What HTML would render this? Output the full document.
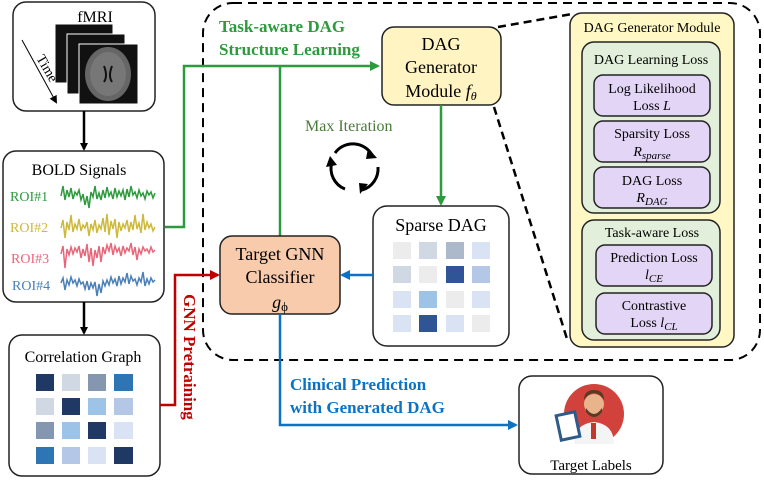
<!DOCTYPE html>
<html><head><meta charset="utf-8"><style>html,body{margin:0;padding:0;background:#fff}svg{display:block}svg text{font-family:"Liberation Serif","Times New Roman",serif}</style></head><body>
<svg width="764" height="484" viewBox="0 0 764 484" xmlns="http://www.w3.org/2000/svg" font-family="Liberation Serif, serif">
<defs>
<marker id="ak" markerWidth="8" markerHeight="8" refX="6" refY="4" orient="auto" markerUnits="userSpaceOnUse"><path d="M0,0 L8,4 L0,8 z" fill="#000"/></marker>
<marker id="ag" markerWidth="10" markerHeight="10" refX="8" refY="5" orient="auto" markerUnits="userSpaceOnUse"><path d="M0,0 L10,5 L0,10 z" fill="#2e9a3e"/></marker>
<marker id="ar" markerWidth="10" markerHeight="10" refX="8" refY="5" orient="auto" markerUnits="userSpaceOnUse"><path d="M0,0 L10,5 L0,10 z" fill="#c00000"/></marker>
<marker id="ab" markerWidth="10" markerHeight="10" refX="8" refY="5" orient="auto" markerUnits="userSpaceOnUse"><path d="M0,0 L10,5 L0,10 z" fill="#0b72c4"/></marker>
</defs>

<rect x="203" y="3" width="557" height="357" rx="30" fill="none" stroke="#000" stroke-width="2" stroke-dasharray="9,6"/>

<!-- fMRI -->
<rect x="13" y="2" width="142" height="109" rx="13" fill="#fff" stroke="#222" stroke-width="1.5"/>
<text x="95" y="22" font-size="16" text-anchor="middle">fMRI</text>
<rect x="55" y="24" width="58" height="59" fill="#111" stroke="#fff" stroke-width="1"/>
<rect x="67" y="34" width="58" height="60" fill="#111" stroke="#fff" stroke-width="1"/>
<rect x="79" y="44" width="59" height="60" fill="#111" stroke="#fff" stroke-width="1"/>
<ellipse cx="108" cy="74" rx="23" ry="27" fill="#666"/>
<ellipse cx="108" cy="74" rx="18" ry="22" fill="#777"/>
<path d="M104,66 q4,10 0,16 M112,66 q-4,10 0,16" stroke="#111" stroke-width="2" fill="none"/>
<line x1="22" y1="40" x2="56" y2="102" stroke="#000" stroke-width="1" marker-end="url(#ak)"/>
<text x="36" y="58" font-size="14" transform="rotate(60 36 58)">Time</text>

<line x1="84" y1="111" x2="84" y2="149" stroke="#000" stroke-width="2.5" marker-end="url(#ak)"/>

<!-- BOLD -->
<rect x="3" y="151" width="161" height="151" rx="13" fill="#fff" stroke="#222" stroke-width="1.5"/>
<text x="79" y="175" font-size="16" text-anchor="middle">BOLD Signals</text>
<text x="10" y="201" font-size="14" fill="#2e9a3e">ROI#1</text>
<text x="10" y="232" font-size="14" fill="#cdb93a">ROI#2</text>
<text x="11" y="263" font-size="14" fill="#e8667a">ROI#3</text>
<text x="12" y="290" font-size="14" fill="#4a7fb8">ROI#4</text>
<polyline fill="none" stroke="#2e9a3e" stroke-width="1.5" points="61,196 63,186 65,200 67,190 69,197 71,188 73,199 75,192 77,195 79,190 81,200 83,194 85,205 87,196 89,208 91,192 93,197 95,186 97,199 99,193 101,200 103,190 105,198 107,187 109,196 111,192 113,199 115,188 117,197 119,191 121,196 123,190 125,200 127,189 129,197 131,186 133,195 135,192 137,198 139,190 141,196 143,193 145,199 147,191 149,195 151,192 153,198 155,193"/>
<polyline fill="none" stroke="#cdb93a" stroke-width="1.5" points="61,228 63,220 65,238 67,222 69,230 71,215 73,232 75,224 77,229 79,219 81,231 83,225 85,228 87,222 89,236 91,224 93,230 95,220 97,233 99,225 101,229 103,218 105,232 107,214 109,235 111,221 113,229 115,219 117,238 119,222 121,231 123,224 125,228 127,220 129,232 131,222 133,230 135,215 137,229 139,223 141,233 143,214 145,230 147,222 149,228 151,224 153,231 155,227"/>
<polyline fill="none" stroke="#e8667a" stroke-width="1.5" points="61,254 63,246 65,268 67,249 69,255 71,247 73,254 75,248 77,252 79,246 81,258 83,249 85,256 87,244 89,262 91,248 93,266 95,250 97,258 99,246 101,262 103,247 105,254 107,245 109,251 111,243 113,255 115,246 117,252 119,248 121,256 123,246 125,253 127,248 129,251 131,243 133,255 135,247 137,260 139,249 141,254 143,247 145,251 147,249 149,253 151,247 153,252 155,250"/>
<polyline fill="none" stroke="#4a7fb8" stroke-width="1.5" points="61,283 63,278 65,290 67,280 69,285 71,277 73,283 75,280 77,286 79,279 81,284 83,282 85,289 87,281 89,290 91,283 93,288 95,282 97,296 99,284 101,293 103,281 105,286 107,280 109,285 111,277 113,283 115,279 117,286 119,276 121,284 123,278 125,282 127,273 129,284 131,276 133,281 135,279 137,285 139,278 141,282 143,272 145,286 147,279 149,284 151,278 153,282 155,280"/>

<line x1="84" y1="302" x2="84" y2="333" stroke="#000" stroke-width="2.5" marker-end="url(#ak)"/>

<!-- Correlation -->
<rect x="9" y="335" width="151" height="141" rx="13" fill="#fff" stroke="#222" stroke-width="1.5"/>
<text x="83" y="362" font-size="16" text-anchor="middle">Correlation Graph</text>
<g>
<rect x="36" y="374" width="18" height="17" fill="#1f3864"/><rect x="62" y="374" width="18" height="17" fill="#d0d8e4"/><rect x="88" y="374" width="18" height="17" fill="#8496b0"/><rect x="114" y="374" width="19" height="17" fill="#2e75b6"/>
<rect x="36" y="398" width="18" height="17" fill="#d0d8e4"/><rect x="62" y="398" width="18" height="17" fill="#1f3864"/><rect x="88" y="398" width="18" height="17" fill="#9dc3e6"/><rect x="114" y="398" width="19" height="17" fill="#b4c7e7"/>
<rect x="36" y="422" width="18" height="17" fill="#8496b0"/><rect x="62" y="422" width="18" height="17" fill="#9dc3e6"/><rect x="88" y="422" width="18" height="17" fill="#1f3864"/><rect x="114" y="422" width="19" height="17" fill="#dae3f3"/>
<rect x="36" y="447" width="18" height="17" fill="#2e75b6"/><rect x="62" y="447" width="18" height="17" fill="#b4c7e7"/><rect x="88" y="447" width="18" height="17" fill="#dae3f3"/><rect x="114" y="447" width="19" height="17" fill="#1f3864"/>
</g>

<polyline points="165,227 184,227 184,66 378,66" fill="none" stroke="#2e9a3e" stroke-width="2.5" marker-end="url(#ag)"/>
<line x1="280" y1="66" x2="280" y2="236" stroke="#2e9a3e" stroke-width="2.5"/>
<text x="219" y="32" font-size="17" font-weight="bold" fill="#2e9a3e">Task-aware DAG</text>
<text x="219" y="55" font-size="17" font-weight="bold" fill="#2e9a3e">Structure Learning</text>

<polyline points="160,405 175,405 175,275 218,275" fill="none" stroke="#c00000" stroke-width="2.5" marker-end="url(#ar)"/>
<text x="0" y="0" font-size="17" font-weight="bold" fill="#c00000" transform="translate(184,294) rotate(90)">GNN Pretraining</text>

<rect x="220" y="236" width="120" height="78" rx="12" fill="#f8cbad" stroke="#222" stroke-width="1.5"/>
<text x="280" y="260" font-size="18" text-anchor="middle">Target GNN</text>
<text x="280" y="283" font-size="18" text-anchor="middle">Classifier</text>
<text x="280" y="308" font-size="18" text-anchor="middle" font-style="italic">g<tspan font-size="13" font-style="normal" dy="3">ϕ</tspan></text>

<rect x="382" y="27" width="119" height="78" rx="12" fill="#fff4c2" stroke="#222" stroke-width="1.5"/>
<text x="441" y="50" font-size="18" text-anchor="middle">DAG</text>
<text x="441" y="73" font-size="18" text-anchor="middle">Generator</text>
<text x="441" y="97" font-size="18" text-anchor="middle">Module <tspan font-style="italic">f</tspan><tspan font-style="italic" font-size="12" dy="3">θ</tspan></text>
<line x1="441" y1="105" x2="441" y2="204" stroke="#2e9a3e" stroke-width="2.5" marker-end="url(#ag)"/>

<text x="305" y="131" font-size="16" fill="#4a7a3a">Max Iteration</text>
<g fill="none" stroke="#000" stroke-width="3">
<path d="M335,153 A22,22 0 0 1 372,155"/>
<path d="M378,167 A22,22 0 0 1 362,190"/>
<path d="M345,189 A22,22 0 0 1 332,162"/>
</g>
<path d="M368,148 L377,158 L366,159 z" fill="#000"/>
<path d="M368,184 L360,194 L359,183 z" fill="#000"/>
<path d="M326,167 L330,156 L337,165 z" fill="#000"/>

<rect x="373" y="206" width="136" height="140" rx="14" fill="#fff" stroke="#222" stroke-width="1.5"/>
<text x="441" y="231" font-size="18" text-anchor="middle">Sparse DAG</text>
<rect x="393" y="242" width="18" height="17" fill="#ececec"/><rect x="419" y="242" width="18" height="17" fill="#d0d8e4"/><rect x="446" y="242" width="18" height="17" fill="#acb9ca"/><rect x="472" y="242" width="18" height="17" fill="#dae3f3"/>
<rect x="393" y="266" width="18" height="17" fill="#d0d8e4"/><rect x="419" y="266" width="18" height="17" fill="#ececec"/><rect x="446" y="266" width="18" height="17" fill="#2f5597"/><rect x="472" y="266" width="18" height="17" fill="#b4c7e7"/>
<rect x="393" y="291" width="18" height="17" fill="#dae3f3"/><rect x="419" y="291" width="18" height="17" fill="#9dc3e6"/><rect x="446" y="291" width="18" height="17" fill="#ececec"/><rect x="472" y="291" width="18" height="17" fill="#dae3f3"/>
<rect x="393" y="315" width="18" height="17" fill="#dae3f3"/><rect x="419" y="315" width="18" height="17" fill="#2f5597"/><rect x="446" y="315" width="18" height="17" fill="#dae3f3"/><rect x="472" y="315" width="18" height="17" fill="#ececec"/>

<line x1="373" y1="275" x2="342" y2="275" stroke="#0b72c4" stroke-width="2.5" marker-end="url(#ab)"/>
<polyline points="280,314 280,425 516,425" fill="none" stroke="#0b72c4" stroke-width="2.5" marker-end="url(#ab)"/>
<text x="290" y="390" font-size="17" font-weight="bold" fill="#0b72c4">Clinical Prediction</text>
<text x="290" y="413" font-size="17" font-weight="bold" fill="#0b72c4">with Generated DAG</text>

<rect x="519" y="376" width="144" height="98" rx="13" fill="#fff" stroke="#222" stroke-width="1.5"/>
<circle cx="594" cy="414" r="30" fill="#d2423c"/>
<path d="M574,444 Q574,424 594,422 Q614,424 614,444 Z" fill="#f4f4f4"/>
<circle cx="594" cy="404" r="10" fill="#e9b48c"/>
<path d="M584,400 q10,-14 20,0 q0,-10 -10,-10 q-10,0 -10,10z" fill="#5a3a22"/>
<path d="M586,408 q8,12 16,0 l0,4 q-8,10 -16,0z" fill="#5a3a22"/>
<rect x="591" y="423" width="5" height="16" fill="#c0392b"/>
<rect x="557" y="412" width="22" height="28" fill="#2e5b8a" transform="rotate(-12 568 426)"/>
<rect x="560" y="415" width="16" height="22" fill="#fff" transform="rotate(-12 568 426)"/>
<text x="591" y="470" font-size="15" text-anchor="middle">Target Labels</text>

<line x1="498" y1="27" x2="572" y2="14" stroke="#000" stroke-width="2.5" stroke-dasharray="8,5"/>
<line x1="494" y1="107" x2="568" y2="342" stroke="#000" stroke-width="2.5" stroke-dasharray="8,5"/>

<rect x="570" y="13" width="164" height="334" rx="12" fill="#fff8c4" stroke="#222" stroke-width="1.5"/>
<text x="652" y="32" font-size="14" text-anchor="middle">DAG Generator Module</text>
<rect x="582" y="42" width="138" height="171" rx="12" fill="#e2efda" stroke="#222" stroke-width="1.5"/>
<text x="651" y="64" font-size="14" text-anchor="middle">DAG Learning Loss</text>
<rect x="594" y="75" width="116" height="41" rx="9" fill="#e3d5f6" stroke="#222" stroke-width="1.5"/>
<text x="652" y="93" font-size="14" text-anchor="middle">Log Likelihood</text>
<text x="652" y="110" font-size="14" text-anchor="middle">Loss <tspan font-style="italic">L</tspan></text>
<rect x="594" y="121" width="116" height="41" rx="9" fill="#e3d5f6" stroke="#222" stroke-width="1.5"/>
<text x="652" y="138" font-size="14" text-anchor="middle">Sparsity Loss</text>
<text x="652" y="156" font-size="14" text-anchor="middle" font-style="italic">R<tspan font-size="11" dy="3">sparse</tspan></text>
<rect x="594" y="167" width="116" height="41" rx="9" fill="#e3d5f6" stroke="#222" stroke-width="1.5"/>
<text x="652" y="185" font-size="14" text-anchor="middle">DAG Loss</text>
<text x="652" y="202" font-size="14" text-anchor="middle" font-style="italic">R<tspan font-size="11" dy="3">DAG</tspan></text>
<rect x="582" y="220" width="138" height="120" rx="12" fill="#e2efda" stroke="#222" stroke-width="1.5"/>
<text x="652" y="237" font-size="14" text-anchor="middle">Task-aware Loss</text>
<rect x="596" y="245" width="116" height="41" rx="9" fill="#e3d5f6" stroke="#222" stroke-width="1.5"/>
<text x="654" y="262" font-size="14" text-anchor="middle">Prediction Loss</text>
<text x="654" y="279" font-size="14" text-anchor="middle" font-style="italic">l<tspan font-size="11" dy="3">CE</tspan></text>
<rect x="596" y="293" width="116" height="41" rx="9" fill="#e3d5f6" stroke="#222" stroke-width="1.5"/>
<text x="654" y="310" font-size="14" text-anchor="middle">Contrastive</text>
<text x="654" y="327" font-size="14" text-anchor="middle">Loss <tspan font-style="italic">l</tspan><tspan font-style="italic" font-size="11" dy="3">CL</tspan></text>
</svg>
</body></html>
